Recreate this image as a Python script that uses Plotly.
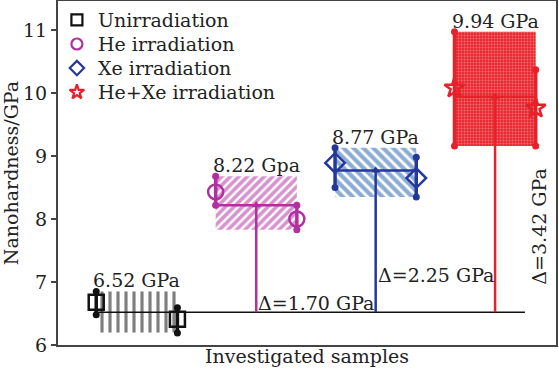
import plotly.graph_objects as go

# ---------------- data ----------------
samples = ["Unirradiation", "He irradiation", "Xe irradiation", "He+Xe irradiation"]
positions = [1, 2, 3, 4]
means = [6.52, 8.22, 8.77, 9.94]
mean_labels = ["6.52 GPa", "8.22 Gpa", "8.77 GPa", "9.94 GPa"]
box_low = [6.20, 7.83, 8.35, 9.16]
box_high = [6.85, 8.68, 9.13, 10.97]
left_point = [6.68, 8.43, 8.89, 10.08]
right_point = [6.41, 8.00, 8.65, 9.76]
left_err_low = [6.48, 8.22, 8.50, 9.16]
left_err_high = [6.85, 8.68, 9.13, 10.97]
right_err_low = [6.19, 7.83, 8.35, 9.16]
right_err_high = [6.59, 8.22, 8.98, 10.37]
delta_labels = ["Δ=1.70 GPa", "Δ=2.25 GPa", "Δ=3.42 GPa"]
y_ticks = [6, 7, 8, 9, 10, 11]

# ---------------- styles ----------------
FONT = "DejaVu Serif"
TXT = "#222222"
colors = ["#111111", "#b0309f", "#23389a", "#e8202a"]
symbols = ["square-open", "circle-open", "diamond-open", "star-open"]
pat_shape = ["|", "/", "\\", "."]
pat_fg = ["#000000", "#b0289c", "#1a5aa8", "#f7b8b8"]
pat_bg = ["white", "white", "white", "#e8262e"]
pat_size = [8, 6, 7, 3]
pat_sol = [0.4, 0.6, 0.6, 0.35]
HALF = 0.34
# legend layout (fractions of the plot area)
LEG_SYM_X = 0.038
LEG_TXT_X = 0.076
LEG_Y0 = 0.945
LEG_DY = 0.07

fig = go.Figure()

# boxes (hatched bars)
for i in range(4):
    fig.add_trace(go.Bar(
        x=[positions[i]], y=[box_high[i] - box_low[i]], base=[box_low[i]],
        width=2 * HALF, showlegend=False,
        marker=dict(color=pat_bg[i], line=dict(width=0),
                    pattern=dict(shape=pat_shape[i], fgcolor=pat_fg[i],
                                 bgcolor=pat_bg[i], size=pat_size[i],
                                 solidity=pat_sol[i])),
        hoverinfo="skip"))

# baseline at unirradiated mean
fig.add_trace(go.Scatter(
    x=[positions[0] - HALF, positions[3] + 0.25], y=[means[0], means[0]],
    mode="lines", line=dict(color="#111111", width=1.5), showlegend=False))

for i in range(4):
    c = colors[i]
    p = positions[i]
    if i > 0:
        fig.add_trace(go.Scatter(x=[p - HALF, p + HALF], y=[means[i], means[i]],
                                 mode="lines", line=dict(color=c, width=2.5),
                                 showlegend=False))
        fig.add_trace(go.Scatter(x=[p, p], y=[means[0], means[i]],
                                 mode="lines", line=dict(color=c, width=2.5),
                                 showlegend=False))
        fig.add_trace(go.Scatter(x=[p], y=[means[i]], mode="markers",
                                 marker=dict(symbol="triangle-up", size=8, color=c),
                                 showlegend=False))
    for xx, lo, hi in [(p - HALF, left_err_low[i], left_err_high[i]),
                       (p + HALF, right_err_low[i], right_err_high[i])]:
        fig.add_trace(go.Scatter(x=[xx, xx], y=[lo, hi], mode="lines+markers",
                                 line=dict(color=c, width=3.5),
                                 marker=dict(size=7, color=c),
                                 showlegend=False))
    fig.add_trace(go.Scatter(
        x=[p - HALF, p + HALF], y=[left_point[i], right_point[i]], mode="markers",
        marker=dict(symbol=symbols[i], size=15, color=c, line=dict(width=2.5, color=c)),
        showlegend=False))
    fig.add_annotation(x=p, y=box_high[i], text=mean_labels[i], showarrow=False,
                       xanchor="center", yanchor="bottom", yshift=-2,
                       font=dict(family=FONT, size=19, color=TXT))

# legend (drawn manually on an overlay axis spanning the plot area)
leg_y = [LEG_Y0 - k * LEG_DY for k in range(4)]
for i in range(4):
    fig.add_trace(go.Scatter(
        x=[LEG_SYM_X], y=[leg_y[i]], xaxis="x2", yaxis="y2", mode="markers",
        marker=dict(symbol=symbols[i], size=11, color=colors[i],
                    line=dict(width=2.2, color=colors[i])),
        showlegend=False, hoverinfo="skip"))
    fig.add_annotation(x=LEG_TXT_X, y=leg_y[i], xref="x2 domain", yref="y2 domain",
                       text=samples[i], showarrow=False, xanchor="left",
                       yanchor="middle", font=dict(family=FONT, size=19, color=TXT))

# delta labels
fig.add_annotation(x=positions[1], y=means[0], text=delta_labels[0], showarrow=False,
                   xanchor="left", yanchor="bottom", yshift=-4,
                   font=dict(family=FONT, size=19, color=TXT))
fig.add_annotation(x=positions[2], y=means[0], text=delta_labels[1], showarrow=False,
                   xanchor="left", yanchor="bottom", yshift=24,
                   font=dict(family=FONT, size=19, color=TXT))
fig.add_annotation(x=positions[3] + 0.36, y=(means[0] + means[3]) / 2 - 0.35,
                   text=delta_labels[2], showarrow=False, textangle=-90,
                   xanchor="center", yanchor="middle",
                   font=dict(family=FONT, size=19, color=TXT))

fig.update_layout(
    width=559, height=376,
    margin=dict(l=58, r=3, t=1, b=31),
    paper_bgcolor="white", plot_bgcolor="white",
    barmode="overlay", showlegend=False,
    font=dict(family=FONT, size=19, color=TXT),
    xaxis=dict(range=[0.34, 4.51], showticklabels=False, ticks="", showgrid=False,
               zeroline=False, showline=True, mirror=True, linecolor="#444", linewidth=2,
               automargin=False,
               title=dict(text="Investigated samples", standoff=4,
                          font=dict(family=FONT, size=19, color=TXT))),
    yaxis=dict(range=[6, 11.46], tickvals=y_ticks, ticks="outside", ticklen=5,
               tickwidth=1.5, tickcolor="#444", showgrid=False, zeroline=False,
               showline=True, mirror=True, linecolor="#444", linewidth=2,
               automargin=False,
               tickfont=dict(family=FONT, size=19, color=TXT),
               title=dict(text="Nanohardness/GPa", standoff=4,
                          font=dict(family=FONT, size=19, color=TXT))),
    xaxis2=dict(range=[0, 1], overlaying="x", visible=False, fixedrange=True),
    yaxis2=dict(range=[0, 1], overlaying="y", visible=False, fixedrange=True),
)

fig.write_html("out.html", config={"displayModeBar": False},
               post_script="document.body.style.margin='0';")
